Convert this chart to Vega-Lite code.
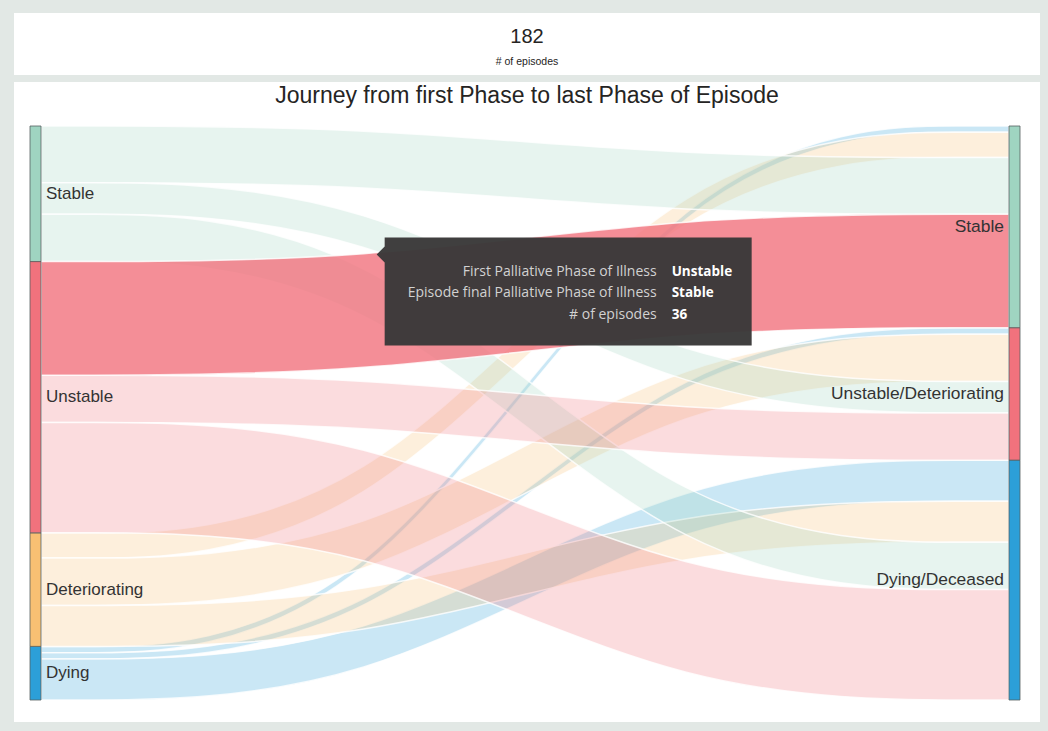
{
  "$schema": "https://vega.github.io/schema/vega-lite/v6.json",
  "background": "#e2e8e5",
  "padding": {"left": 14, "top": 13, "right": 8, "bottom": 9},
  "spacing": 7,
  "config": {"view": {"stroke": null}, "font": "Liberation Sans"},
  "datasets": {
    "links": [
      {"source": "Dying", "target": "Stable", "episodes": 2, "sourceOrder": 4, "targetOrder": 1},
      {"source": "Dying", "target": "Unstable/Deteriorating", "episodes": 2, "sourceOrder": 4, "targetOrder": 2},
      {"source": "Dying", "target": "Dying/Deceased", "episodes": 13, "sourceOrder": 4, "targetOrder": 3},
      {"source": "Deteriorating", "target": "Stable", "episodes": 8, "sourceOrder": 3, "targetOrder": 1},
      {"source": "Deteriorating", "target": "Unstable/Deteriorating", "episodes": 15, "sourceOrder": 3, "targetOrder": 2},
      {"source": "Deteriorating", "target": "Dying/Deceased", "episodes": 13, "sourceOrder": 3, "targetOrder": 3},
      {"source": "Stable", "target": "Stable", "episodes": 18, "sourceOrder": 1, "targetOrder": 1},
      {"source": "Stable", "target": "Unstable/Deteriorating", "episodes": 10, "sourceOrder": 1, "targetOrder": 2},
      {"source": "Stable", "target": "Dying/Deceased", "episodes": 15, "sourceOrder": 1, "targetOrder": 3},
      {"source": "Unstable", "target": "Stable", "episodes": 36, "sourceOrder": 2, "targetOrder": 1},
      {"source": "Unstable", "target": "Unstable/Deteriorating", "episodes": 15, "sourceOrder": 2, "targetOrder": 2},
      {"source": "Unstable", "target": "Dying/Deceased", "episodes": 35, "sourceOrder": 2, "targetOrder": 3}
    ]
  },
  "vconcat": [
    {
      "width": 1026,
      "height": 62,
      "view": {"fill": "white", "stroke": null},
      "data": {"name": "links"},
      "transform": [{"aggregate": [{"op": "sum", "field": "episodes", "as": "total"}]}],
      "layer": [
        {
          "mark": {"type": "text", "fontSize": 20, "dy": -7, "color": "#252423", "font": "Liberation Sans"},
          "encoding": {"text": {"field": "total", "type": "quantitative"}}
        },
        {
          "mark": {"type": "text", "fontSize": 10.5, "dy": 18, "color": "#252423", "font": "Liberation Sans"},
          "encoding": {"text": {"value": "# of episodes"}}
        }
      ]
    },
    {
      "width": 1026,
      "height": 640,
      "view": {"fill": "white", "stroke": null},
      "title": {"text": "Journey from first Phase to last Phase of Episode", "fontSize": 23, "fontWeight": "normal", "font": "Liberation Sans", "color": "#252423", "anchor": "middle", "offset": -26, "frame": "group"},
      "data": {"name": "links"},
      "transform": [
        {"window": [{"op": "row_number", "as": "a_left"}, {"op": "row_number", "as": "b_left"}], "sort": [{"field": "sourceOrder"}, {"field": "targetOrder"}]},
        {"window": [{"op": "row_number", "as": "c_right"}, {"op": "row_number", "as": "d_right"}], "sort": [{"field": "targetOrder"}]},
        {"fold": ["a_left", "b_left", "c_right", "d_right"], "as": ["pos", "rank"]},
        {"stack": "episodes", "groupby": ["pos"], "sort": [{"field": "rank", "order": "ascending"}], "as": ["y0", "y1"]}
      ],
      "layer": [
        {
          "transform": [{"filter": "!(datum.source === 'Unstable' && datum.target === 'Stable')"}],
          "mark": {"type": "area", "interpolate": "basis", "fillOpacity": 0.25, "stroke": "white", "strokeWidth": 1.5, "strokeOpacity": 0.8},
          "encoding": {
            "x": {"field": "pos", "type": "nominal", "scale": {"type": "point", "padding": 0, "domain": ["a_left", "b_left", "c_right", "d_right"], "range": [27, 995]}, "axis": null},
            "y": {"field": "y0", "type": "quantitative", "scale": {"domain": [0, 182], "range": [44, 618], "nice": false, "zero": false}, "axis": null},
            "y2": {"field": "y1"},
            "color": {"field": "source", "type": "nominal", "scale": {"domain": ["Stable", "Unstable", "Deteriorating", "Dying", "Unstable/Deteriorating", "Dying/Deceased"], "range": ["#9fd4c1", "#f1727d", "#f8c073", "#2c9fd8", "#f1727d", "#2c9fd8"]}, "legend": null},
            "detail": [{"field": "source"}, {"field": "target"}]
          }
        },
        {
          "transform": [{"filter": "datum.source === 'Unstable' && datum.target === 'Stable'"}],
          "mark": {"type": "area", "interpolate": "basis", "fillOpacity": 0.8, "stroke": "white", "strokeWidth": 1.5, "strokeOpacity": 0.8},
          "encoding": {
            "x": {"field": "pos", "type": "nominal", "scale": {"type": "point", "padding": 0, "domain": ["a_left", "b_left", "c_right", "d_right"], "range": [27, 995]}, "axis": null},
            "y": {"field": "y0", "type": "quantitative", "scale": {"domain": [0, 182], "range": [44, 618], "nice": false, "zero": false}, "axis": null},
            "y2": {"field": "y1"},
            "color": {"field": "source", "type": "nominal", "legend": null},
            "detail": [{"field": "source"}, {"field": "target"}]
          }
        },
        {
          "transform": [
            {"filter": {"field": "pos", "equal": "a_left"}},
            {"aggregate": [{"op": "min", "field": "y0", "as": "top"}, {"op": "max", "field": "y1", "as": "bottom"}], "groupby": ["source", "pos"]}
          ],
          "mark": {"type": "bar", "size": 11, "xOffset": -5.5, "stroke": "#55605f", "strokeWidth": 0.8},
          "encoding": {
            "x": {"field": "pos", "type": "nominal", "scale": {"type": "point", "padding": 0, "domain": ["a_left", "b_left", "c_right", "d_right"], "range": [27, 995]}, "axis": null},
            "y": {"field": "top", "type": "quantitative", "scale": {"domain": [0, 182], "range": [44, 618], "nice": false, "zero": false}, "axis": null},
            "y2": {"field": "bottom"},
            "color": {"field": "source", "type": "nominal", "legend": null}
          }
        },
        {
          "transform": [
            {"filter": {"field": "pos", "equal": "d_right"}},
            {"aggregate": [{"op": "min", "field": "y0", "as": "top"}, {"op": "max", "field": "y1", "as": "bottom"}], "groupby": ["target", "pos"]}
          ],
          "mark": {"type": "bar", "size": 11, "xOffset": 5.5, "stroke": "#55605f", "strokeWidth": 0.8},
          "encoding": {
            "x": {"field": "pos", "type": "nominal", "scale": {"type": "point", "padding": 0, "domain": ["a_left", "b_left", "c_right", "d_right"], "range": [27, 995]}, "axis": null},
            "y": {"field": "top", "type": "quantitative", "scale": {"domain": [0, 182], "range": [44, 618], "nice": false, "zero": false}, "axis": null},
            "y2": {"field": "bottom"},
            "color": {"field": "target", "type": "nominal", "legend": null}
          }
        },
        {
          "transform": [
            {"filter": {"field": "pos", "equal": "a_left"}},
            {"aggregate": [{"op": "min", "field": "y0", "as": "lo"}, {"op": "max", "field": "y1", "as": "hi"}], "groupby": ["source", "pos"]},
            {"fold": ["lo", "hi"], "as": ["edge", "v"]},
            {"aggregate": [{"op": "mean", "field": "v", "as": "mid"}], "groupby": ["source", "pos"]}
          ],
          "mark": {"type": "text", "align": "left", "baseline": "middle", "dx": 5, "fontSize": 17, "font": "Liberation Sans", "color": "#333333"},
          "encoding": {
            "x": {"field": "pos", "type": "nominal", "scale": {"type": "point", "padding": 0, "domain": ["a_left", "b_left", "c_right", "d_right"], "range": [27, 995]}, "axis": null},
            "y": {"field": "mid", "type": "quantitative", "scale": {"domain": [0, 182], "range": [44, 618], "nice": false, "zero": false}, "axis": null},
            "text": {"field": "source"}
          }
        },
        {
          "transform": [
            {"filter": {"field": "pos", "equal": "d_right"}},
            {"aggregate": [{"op": "min", "field": "y0", "as": "lo"}, {"op": "max", "field": "y1", "as": "hi"}], "groupby": ["target", "pos"]},
            {"fold": ["lo", "hi"], "as": ["edge", "v"]},
            {"aggregate": [{"op": "mean", "field": "v", "as": "mid"}], "groupby": ["target", "pos"]}
          ],
          "mark": {"type": "text", "align": "right", "baseline": "middle", "dx": -5, "fontSize": 17.4, "font": "Liberation Sans", "color": "#333333"},
          "encoding": {
            "x": {"field": "pos", "type": "nominal", "scale": {"type": "point", "padding": 0, "domain": ["a_left", "b_left", "c_right", "d_right"], "range": [27, 995]}, "axis": null},
            "y": {"field": "mid", "type": "quantitative", "scale": {"domain": [0, 182], "range": [44, 618], "nice": false, "zero": false}, "axis": null},
            "text": {"field": "target"}
          }
        },
        {
          "transform": [{"filter": "datum.pos === 'b_left' && datum.source === 'Unstable' && datum.target === 'Stable'"}],
          "encoding": {
            "x": {"field": "pos", "type": "nominal", "scale": {"type": "point", "padding": 0, "domain": ["a_left", "b_left", "c_right", "d_right"], "range": [27, 995]}, "axis": null},
            "y": {"field": "y0", "type": "quantitative", "scale": {"domain": [0, 182], "range": [44, 618], "nice": false, "zero": false}, "axis": null}
          },
          "layer": [
            {"mark": {"type": "point", "shape": "M21,-24H388V84H21V1L13,-7L21,-15Z", "size": 4, "filled": true, "color": "#3a3939", "opacity": 0.97, "strokeWidth": 0}},
            {"mark": {"type": "text", "align": "right", "baseline": "middle", "dx": 293, "dy": 10, "font": "Open Sans", "fontSize": 14, "color": "#d2d2d2"}, "encoding": {"text": {"value": "First Palliative Phase of Illness"}}},
            {"mark": {"type": "text", "align": "right", "baseline": "middle", "dx": 293, "dy": 31, "font": "Open Sans", "fontSize": 14, "color": "#d2d2d2"}, "encoding": {"text": {"value": "Episode final Palliative Phase of Illness"}}},
            {"mark": {"type": "text", "align": "right", "baseline": "middle", "dx": 293, "dy": 53, "font": "Open Sans", "fontSize": 14, "color": "#d2d2d2"}, "encoding": {"text": {"value": "# of episodes"}}},
            {"mark": {"type": "text", "align": "left", "baseline": "middle", "dx": 308, "dy": 10, "font": "Open Sans", "fontSize": 13.5, "fontWeight": "bold", "color": "#ffffff"}, "encoding": {"text": {"field": "source"}}},
            {"mark": {"type": "text", "align": "left", "baseline": "middle", "dx": 308, "dy": 31, "font": "Open Sans", "fontSize": 13.5, "fontWeight": "bold", "color": "#ffffff"}, "encoding": {"text": {"field": "target"}}},
            {"mark": {"type": "text", "align": "left", "baseline": "middle", "dx": 308, "dy": 53, "font": "Open Sans", "fontSize": 13.5, "fontWeight": "bold", "color": "#ffffff"}, "encoding": {"text": {"field": "episodes", "type": "quantitative"}}}
          ]
        }
      ]
    }
  ]
}
